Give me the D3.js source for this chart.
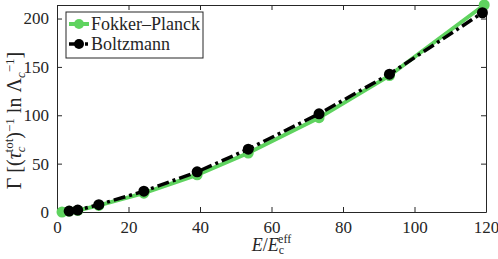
<!DOCTYPE html>
<html>
<head>
<meta charset="utf-8">
<script src="https://cdn.jsdelivr.net/npm/d3@7"></script>
<style>
  body { margin: 0; background: #fff; }
  .axis path, .axis line { stroke: #262626; stroke-width: 1; }
</style>
</head>
<body>
<div id="chart"></div>
<script>
// Fokker-Planck (green) and Boltzmann (black) avalanche growth rates
const fpE = [1.4, 3.4, 5.8, 11.7, 24.3, 39.2, 53.5, 73.3, 93, 119.5];
const fpG = [0, 0.8, 1.6, 6.8, 19.5, 38.5, 61, 97.5, 141, 214];
const bzE = [3.4, 5.8, 11.7, 24.3, 39.2, 53.5, 73.3, 93, 119];
const bzG = [1, 2, 7.6, 21.5, 41.5, 65, 101.5, 142.5, 206];
const xTicks = [0, 20, 40, 60, 80, 100, 120];
const yTicks = [0, 50, 100, 150, 200];
const legendNames = ["Fokker\u2013Planck", "Boltzmann"];

const width = 498, height = 259;
const margin = {top: 5, right: 12, bottom: 47, left: 57};
const plotWidth = width - margin.left - margin.right;
const plotHeight = height - margin.top - margin.bottom;
const serif = "'Liberation Serif'";

const svg = d3.select("#chart").append("svg")
  .attr("width", width).attr("height", height);
const g = svg.append("g")
  .attr("transform", "translate(" + margin.left + "," + margin.top + ")");

const x = d3.scaleLinear().domain([0, 120]).range([0, plotWidth]);
const y = d3.scaleLinear().domain([0, 214]).range([plotHeight, 0]);

// axes on all four sides, ticks inward
g.append("g").attr("class", "axis")
  .attr("transform", "translate(0," + plotHeight + ")")
  .call(d3.axisBottom(x).tickValues(xTicks).tickSizeInner(-5).tickSizeOuter(0).tickPadding(8))
  .selectAll("text").attr("dy", "0.75em");
g.append("g").attr("class", "axis")
  .call(d3.axisTop(x).tickValues(xTicks).tickSizeInner(-5).tickSizeOuter(0).tickFormat(""));
g.append("g").attr("class", "axis")
  .call(d3.axisLeft(y).tickValues(yTicks).tickSizeInner(-5).tickSizeOuter(0).tickPadding(8));
g.append("g").attr("class", "axis")
  .attr("transform", "translate(" + plotWidth + ",0)")
  .call(d3.axisRight(y).tickValues(yTicks).tickSizeInner(-5).tickSizeOuter(0).tickFormat(""));
g.selectAll(".axis").attr("font-size", 17);

const line = d3.line().x(d => x(d[0])).y(d => y(d[1]));
const fp = fpE.map((e, i) => [e, fpG[i]]);
const bz = bzE.map((e, i) => [e, bzG[i]]);

g.append("path").datum(fp)
  .attr("d", line).attr("fill", "none")
  .attr("stroke", "#5fd35f").attr("stroke-width", 4);
g.selectAll(".fpDot").data(fp).enter().append("circle")
  .attr("class", "fpDot")
  .attr("cx", d => x(d[0])).attr("cy", d => y(d[1])).attr("r", 5.5)
  .attr("fill", "#5fd35f");

g.append("path").datum(bz)
  .attr("d", line).attr("fill", "none")
  .attr("stroke", "#000").attr("stroke-width", 3.5)
  .attr("stroke-dasharray", "12,4,3,4");
g.selectAll(".bzDot").data(bz).enter().append("circle")
  .attr("class", "bzDot")
  .attr("cx", d => x(d[0])).attr("cy", d => y(d[1])).attr("r", 5.5)
  .attr("fill", "#000");

// legend
const leg = svg.append("g").attr("transform", "translate(66,12)");
leg.append("rect").attr("width", 137).attr("height", 46)
  .attr("fill", "#fff").attr("stroke", "#262626").attr("stroke-width", 1);
const legItems = leg.selectAll(".item").data(legendNames).enter().append("g")
  .attr("transform", (d, i) => "translate(0," + (12 + i * 20) + ")");
legItems.append("line").attr("x1", 3).attr("x2", 23)
  .attr("stroke", (d, i) => i === 0 ? "#5fd35f" : "#000")
  .attr("stroke-width", (d, i) => i === 0 ? 4 : 3.5)
  .attr("stroke-dasharray", (d, i) => i === 0 ? null : "12,4,3,4");
legItems.append("circle").attr("cx", 13).attr("r", 5)
  .attr("fill", (d, i) => i === 0 ? "#5fd35f" : "#000");
legItems.append("text").attr("x", 25).attr("dy", "0.35em")
  .attr("font-size", 18).text(d => d);

// x label
const xl = svg.append("text")
  .attr("x", margin.left + plotWidth / 2).attr("y", 251)
  .attr("text-anchor", "middle").attr("font-size", 18);
xl.append("tspan").attr("font-style", "italic").text("E");
xl.append("tspan").text("/");
xl.append("tspan").attr("font-style", "italic").text("E");
xl.append("tspan").attr("dy", 3).attr("font-size", 12).text("c");
xl.append("tspan").attr("dx", -6).attr("dy", -11).attr("font-size", 12).text("eff");

// y label
const yl = svg.append("text")
  .attr("transform", "translate(21," + (margin.top + plotHeight / 2 + 12) + ") rotate(-90)")
  .attr("text-anchor", "middle").attr("font-size", 20);
yl.append("tspan").text("\u0393  [(");
yl.append("tspan").attr("font-style", "italic").text("\u03c4");
yl.append("tspan").attr("dy", 4).attr("font-size", 13).attr("font-style", "italic").text("c");
yl.append("tspan").attr("dx", -6).attr("dy", -12).attr("font-size", 13).text("tot");
yl.append("tspan").attr("dy", 8).text(")");
yl.append("tspan").attr("dy", -7).attr("font-size", 13).text("\u22121");
yl.append("tspan").attr("dy", 7).text(" ln \u039b");
yl.append("tspan").attr("dy", 4).attr("font-size", 13).attr("font-style", "italic").text("c");
yl.append("tspan").attr("dy", -11).attr("font-size", 13).text("\u22121");
yl.append("tspan").attr("dy", 7).text("]");

svg.selectAll("text").attr("font-family", serif).attr("fill", "#262626");
</script>
</body>
</html>
